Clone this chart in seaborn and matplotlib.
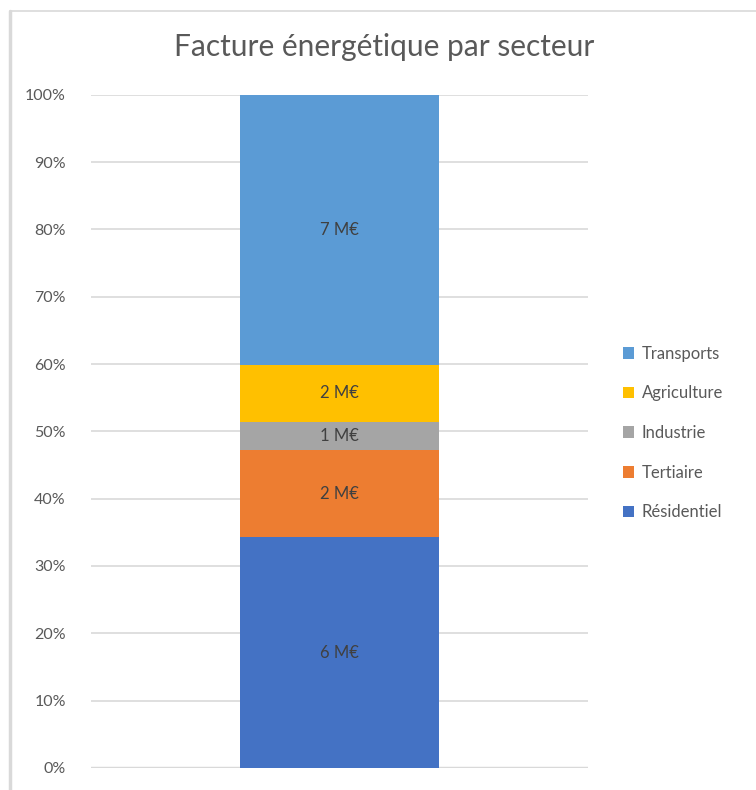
import matplotlib
matplotlib.use("Agg")
import matplotlib.pyplot as plt
import seaborn as sns
import pandas as pd
from matplotlib.lines import Line2D
from matplotlib.patches import Patch

# sectors from bottom to top of the stacked bar
sectors = ["Résidentiel", "Tertiaire", "Industrie", "Agriculture", "Transports"]
values_meur = [6.17, 2.33, 0.75, 1.53, 7.22]
colors = ["#4472C4", "#ED7D31", "#A5A5A5", "#FFC000", "#5B9BD5"]
y_ticks = [0, 10, 20, 30, 40, 50, 60, 70, 80, 90, 100]

sns.set_style("white")
plt.rcParams["font.family"] = ["Lato", "DejaVu Sans"]

total = sum(values_meur)
df = pd.DataFrame({"secteur": sectors, "valeur": values_meur, "couleur": colors})
df["pct"] = df["valeur"] / total * 100
df["cumul"] = df["pct"].cumsum()
df["bas"] = df["cumul"] - df["pct"]
df["x"] = ""

fig = plt.figure(figsize=(7.56, 7.90), dpi=100)
ax = fig.add_axes([0.120, 0.028, 0.658, 0.852])

# layered cumulative bars, drawn from the top segment down
for i in reversed(range(len(df))):
    sns.barplot(data=df.iloc[[i]], x="x", y="cumul", color=df["couleur"][i],
                width=0.8, saturation=1, linewidth=0, ax=ax, zorder=3)

for _, r in df.iterrows():
    ax.text(0, r["bas"] + r["pct"] / 2, f"{r['valeur']:.0f} M€",
            ha="center", va="center", fontsize=12, color="#404040", zorder=4)

ax.set_xlim(-1.004, 1.004)
ax.set_ylim(0, 100)
ax.set_yticks(y_ticks)
ax.set_yticklabels([f"{t}%" for t in y_ticks], fontsize=11.5, color="#595959")
ax.set_xticks([])
ax.set_xlabel("")
ax.set_ylabel("")
ax.tick_params(axis="y", length=0, pad=18)
ax.yaxis.grid(True, color="#D9D9D9", linewidth=1.2, zorder=0)
ax.axhline(0, color="#D9D9D9", linewidth=2.5, zorder=1)
for s in ax.spines.values():
    s.set_visible(False)

fig.suptitle("Facture énergétique par secteur", x=0.508, y=0.958,
             fontsize=21.5, color="#595959")

handles = [Patch(facecolor=c, edgecolor="none") for c in reversed(colors)]
fig.legend(handles, list(reversed(sectors)), loc="center left",
           bbox_to_anchor=(0.804, 0.452), frameon=False, fontsize=12,
           labelcolor="#595959", handlelength=0.7, handleheight=0.7,
           handletextpad=0.45, labelspacing=1.42)

# chart area border
fig.add_artist(Line2D([10 / 756, 1], [1 - 11 / 790, 1 - 11 / 790],
                      color="#D9D9D9", linewidth=1.2))
fig.add_artist(Line2D([10 / 756, 10 / 756], [0, 1 - 11 / 790],
                      color="#D9D9D9", linewidth=2.5))

fig.savefig("out.png", dpi=100)
